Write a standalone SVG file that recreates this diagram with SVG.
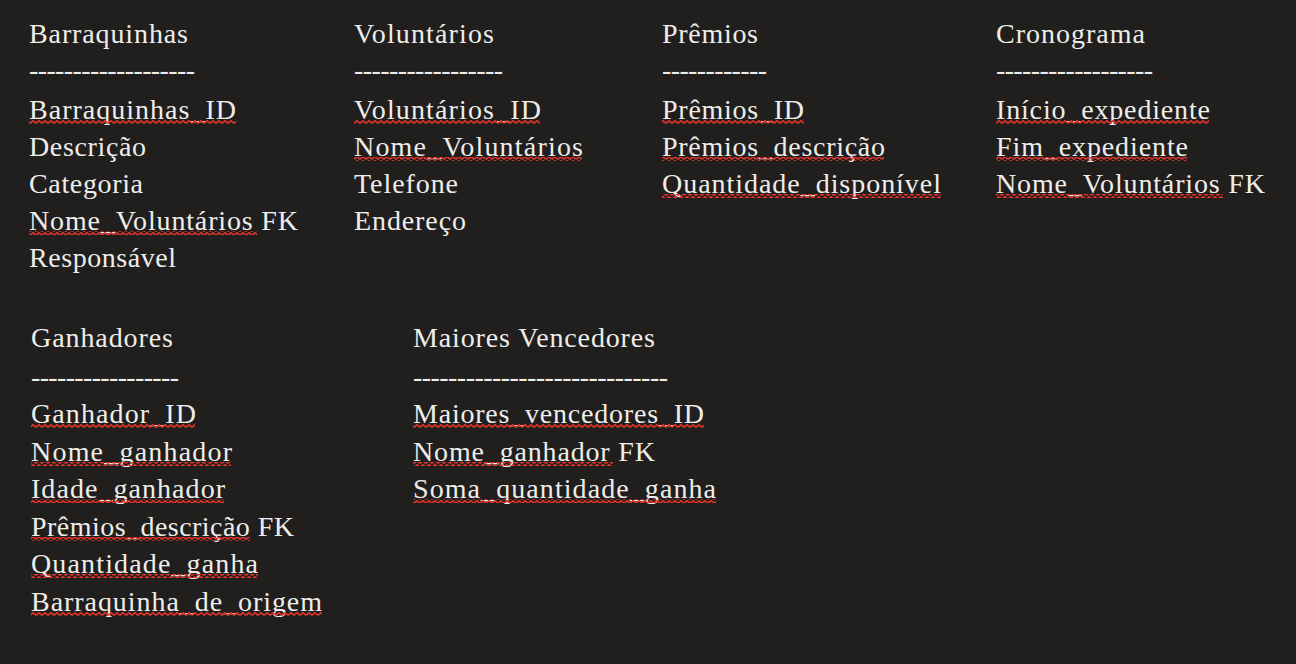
<svg xmlns="http://www.w3.org/2000/svg" width="1296" height="664" viewBox="0 0 1296 664">
<style>
.t{font-family:"Liberation Serif","Times New Roman",serif;font-size:28px;fill:#efedea}
.w{fill:url(#wavy)}
</style>
<defs>
<pattern id="wavy" patternUnits="userSpaceOnUse" x="0" y="0" width="6" height="4">
<path d="M0 3.3 L3 0.7 L6 3.3" fill="none" stroke="#e2332b" stroke-width="1.6"/>
</pattern>
</defs>
<rect x="0" y="0" width="1296" height="664" fill="#201f1e"/>

<g id="barraquinhas">
<text class="t" x="29" y="43" textLength="159">Barraquinhas</text>
<text class="t" x="29" y="79" textLength="166">-------------------</text>
<text class="t" x="29" y="119" textLength="207">Barraquinhas_ID</text>
<rect class="w" x="29" y="120" width="207" height="4"/>
<text class="t" x="29" y="156" textLength="117">Descrição</text>
<text class="t" x="29" y="193" textLength="114">Categoria</text>
<text class="t" x="29" y="230" textLength="269">Nome_Voluntários FK</text>
<rect class="w" x="29" y="231" width="228" height="4"/>
<text class="t" x="29" y="267" textLength="147">Responsável</text>
</g>

<g id="voluntarios">
<text class="t" x="354" y="43" textLength="140">Voluntários</text>
<text class="t" x="354" y="79" textLength="149">-----------------</text>
<text class="t" x="354" y="119" textLength="187">Voluntários_ID</text>
<rect class="w" x="354" y="120" width="186" height="4"/>
<text class="t" x="354" y="156" textLength="229">Nome_Voluntários</text>
<rect class="w" x="354" y="157" width="228" height="4"/>
<text class="t" x="354" y="193" textLength="104">Telefone</text>
<text class="t" x="354" y="230" textLength="112">Endereço</text>
</g>

<g id="premios">
<text class="t" x="662" y="43" textLength="96">Prêmios</text>
<text class="t" x="662" y="79" textLength="105">------------</text>
<text class="t" x="662" y="119" textLength="142">Prêmios_ID</text>
<rect class="w" x="662" y="120" width="142" height="4"/>
<text class="t" x="662" y="156" textLength="223">Prêmios_descrição</text>
<rect class="w" x="662" y="157" width="222" height="4"/>
<text class="t" x="662" y="193" textLength="279">Quantidade_disponível</text>
<rect class="w" x="662" y="194" width="279" height="4"/>
</g>

<g id="cronograma">
<text class="t" x="996" y="43" textLength="149">Cronograma</text>
<text class="t" x="996" y="79" textLength="157">------------------</text>
<text class="t" x="996" y="119" textLength="214">Início_expediente</text>
<rect class="w" x="996" y="120" width="213" height="4"/>
<text class="t" x="996" y="156" textLength="192">Fim_expediente</text>
<rect class="w" x="996" y="157" width="191" height="4"/>
<text class="t" x="996" y="193" textLength="269">Nome_Voluntários FK</text>
<rect class="w" x="996" y="194" width="227" height="4"/>
</g>

<g id="ganhadores">
<text class="t" x="31" y="347" textLength="142">Ganhadores</text>
<text class="t" x="31" y="386" textLength="148">-----------------</text>
<text class="t" x="31" y="423" textLength="165">Ganhador_ID</text>
<rect class="w" x="31" y="424" width="164" height="4"/>
<text class="t" x="31" y="461" textLength="201">Nome_ganhador</text>
<rect class="w" x="31" y="462" width="200" height="4"/>
<text class="t" x="31" y="498" textLength="194">Idade_ganhador</text>
<rect class="w" x="31" y="499" width="193" height="4"/>
<text class="t" x="31" y="536" textLength="263">Prêmios_descrição FK</text>
<rect class="w" x="31" y="537" width="219" height="4"/>
<text class="t" x="31" y="573" textLength="227">Quantidade_ganha</text>
<rect class="w" x="31" y="574" width="227" height="4"/>
<text class="t" x="31" y="611" textLength="291">Barraquinha_de_origem</text>
<rect class="w" x="31" y="612" width="291" height="4"/>
</g>

<g id="maiores-vencedores">
<text class="t" x="413" y="347" textLength="242">Maiores Vencedores</text>
<text class="t" x="413" y="386" textLength="255">-----------------------------</text>
<text class="t" x="413" y="423" textLength="291">Maiores_vencedores_ID</text>
<rect class="w" x="413" y="424" width="291" height="4"/>
<text class="t" x="413" y="461" textLength="242">Nome_ganhador FK</text>
<rect class="w" x="413" y="462" width="200" height="4"/>
<text class="t" x="413" y="498" textLength="303">Soma_quantidade_ganha</text>
<rect class="w" x="413" y="499" width="303" height="4"/>
</g>

<g id="connectors"></g>
</svg>
